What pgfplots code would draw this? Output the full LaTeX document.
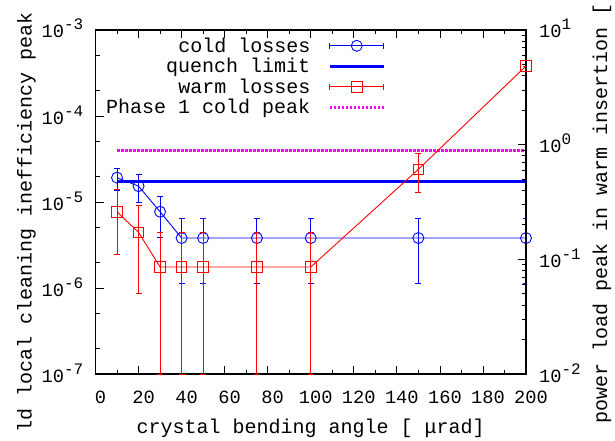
\documentclass[border=0pt]{standalone}
\usepackage{fontspec}
\setmainfont{Liberation Mono}
\usepackage{pgfplots}
\pgfplotsset{compat=1.18}

\definecolor{mag}{RGB}{255,0,255}
\newcommand\tfont{\fontsize{18.7bp}{18.7bp}\selectfont}
\newcommand\lfont{\fontsize{20bp}{24bp}\selectfont}
\newcommand\ex[1]{10\raisebox{8bp}{\fontsize{16bp}{16bp}\selectfont#1}}

\pgfplotsset{
  barlegend/.style={legend image code/.code={%
    \draw[##1, mark=none] (0bp,0bp) -- (54bp,0bp);
    \draw[##1, mark=none] (0bp,-3bp) -- (0bp,3bp);
    \draw[##1, mark=none] (54bp,-3bp) -- (54bp,3bp);
    \draw[##1] plot coordinates {(27bp,0bp)};}},
  longlegend/.style={legend image code/.code={%
    \draw[##1] (0bp,0bp) -- (54bp,0bp);}},
}

\begin{document}
\begin{tikzpicture}
% left axis: cold losses
\begin{axis}[
  scale only axis, width=430.5bp, height=344bp,
  at={(95.5bp,67bp)}, anchor=south west,
  xmin=0, xmax=200, ymode=log, ymin=1e-7, ymax=1e-3,
  tick align=inside, major tick length=8bp, minor tick length=4bp,
  every tick/.style={black, line width=0.8bp},
  axis line style={line width=1.2bp},
  /pgf/number format/assume math mode=true,
  xtick={0,20,...,200}, minor x tick num=1, xtick pos=both,
  xticklabel style={font=\tfont, anchor=base, yshift=-29bp, xshift=5bp, inner sep=0pt},
  ytick={1e-7,1e-6,1e-5,1e-4,1e-3},
  yticklabels={\ex{-7},\ex{-6},\ex{-5},\ex{-4},\ex{-3}},
  minor ytick={2e-7,5e-7,2e-6,5e-6,2e-5,5e-5,2e-4,5e-4},
  ytick pos=left,
  yticklabel style={font=\tfont, anchor=base east, xshift=-12bp, yshift=-8bp, inner sep=0pt},
  xlabel={crystal bending angle [ μrad]},
  xlabel style={font=\lfont, at={(axis description cs:0.5,0)}, anchor=base, yshift=-59bp, inner sep=0pt},
  legend style={at={(0.6805,0.9895)}, anchor=north east, draw=none, fill=none,
    row sep=0.5bp, column sep=16bp, font=\lfont},
  legend cell align=right, legend plot pos=right,
]
\addplot[blue, line width=0.9bp, mark=o, mark size=5.5bp, barlegend,
  error bars/.cd, y dir=both, y explicit,
  error bar style={line width=0.9bp},
  error mark options={rotate=90, blue, mark size=3bp, line width=0.9bp}]
coordinates {
(10,1.92e-5) +- (0,0.56e-5)
(20,1.53e-5) +- (0,0.55e-5)
(30,7.71e-6) +- (0,3.85e-6)
(40,3.81e-6) +- (0,2.68e-6)
(50,3.81e-6) +- (0,2.68e-6)
(75,3.81e-6) +- (0,2.68e-6)
(100,3.81e-6) +- (0,2.68e-6)
(150,3.81e-6) +- (0,2.68e-6)
(200,3.81e-6) +- (0,2.68e-6)
};
\addlegendentry{cold losses}
\addplot[blue, line width=3bp, longlegend] coordinates {(10,1.71e-5) (200,1.71e-5)};
\addlegendentry{quench limit}
\addlegendimage{red, line width=0.9bp, mark=square, mark size=5.3bp, barlegend}
\addlegendentry{warm losses}
\addplot[mag, line width=3bp, dash pattern=on 2.5bp off 1.5bp, longlegend]
coordinates {(10,3.92e-5) (200,3.92e-5)};
\addlegendentry{Phase 1 cold peak}
\end{axis}

% y axis titles, cut where the reference cuts them
\begin{scope}
\clip (0bp,9bp) rectangle (70bp,441bp);
\node[rotate=90, anchor=base, inner sep=0pt, font=\lfont] at (31.5bp,207bp)
  {cold local cleaning inefficiency peak};
\end{scope}
\begin{scope}
\clip (560bp,0bp) rectangle (615bp,436bp);
\node[rotate=90, anchor=base, inner sep=0pt, font=\lfont] at (607bp,246bp)
  {power load peak in warm insertion [kW]};
\end{scope}

% right axis: warm losses
\begin{axis}[
  scale only axis, width=430.5bp, height=344bp,
  at={(95.5bp,67bp)}, anchor=south west,
  xmin=0, xmax=200, ymode=log, ymin=1e-2, ymax=1e1,
  tick align=inside, major tick length=8bp, minor tick length=4bp,
  every tick/.style={black, line width=0.8bp},
  axis line style={line width=1.2bp},
  axis x line=none, axis y line*=right,
  ytick={1e-2,1e-1,1,1e1},
  yticklabels={\ex{-2},\ex{-1},\ex{0},\ex{1}},
  minor ytick={0.02,0.03,0.04,0.05,0.06,0.07,0.08,0.09,0.2,0.3,0.4,0.5,0.6,0.7,0.8,0.9,2,3,4,5,6,7,8,9},
  yticklabel style={font=\tfont, anchor=base west, xshift=13bp, yshift=-8bp, inner sep=0pt},
]
\addplot[red, line width=0.9bp, mark=square, mark size=5.3bp,
  error bars/.cd, y dir=both, y explicit,
  error bar style={line width=0.9bp},
  error mark options={rotate=90, red, mark size=3bp, line width=0.9bp}]
coordinates {
(10,0.259) +- (0,0.148)
(20,0.172) +- (0,0.122)
(30,0.0857) += (0,0.0863) -= (0,0.0757)
(40,0.0857) += (0,0.0863) -= (0,0.0757)
(50,0.0857) += (0,0.0863) -= (0,0.0757)
(75,0.0857) += (0,0.0863) -= (0,0.0757)
(100,0.0857) += (0,0.0863) -= (0,0.0757)
(150,0.610) +- (0,0.225)
(200,4.85) +- (0,0)
};
\end{axis}
\pgfresetboundingbox
\path[use as bounding box] (0,0) rectangle (615bp,441bp);
\end{tikzpicture}
\end{document}
